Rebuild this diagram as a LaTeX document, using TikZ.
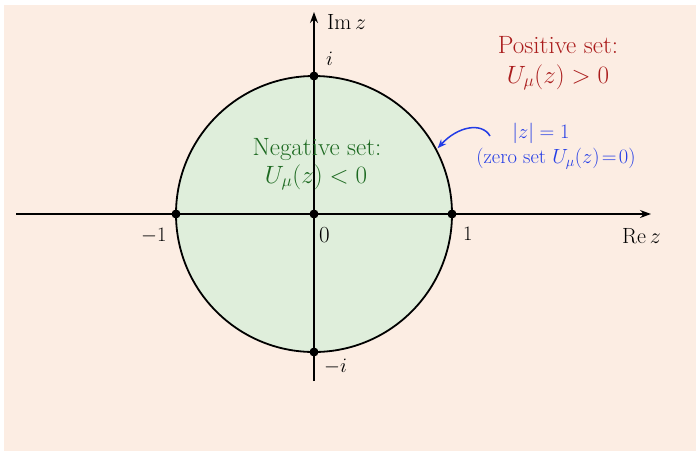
\documentclass[tikz,border=0pt]{standalone}
\usepackage{fix-cm}
\usepackage{amsmath}
\usetikzlibrary{arrows.meta,calc}
\definecolor{bgpeach}{RGB}{252,237,227}
\definecolor{diskgreen}{RGB}{223,238,219}
\definecolor{posred}{RGB}{170,28,28}
\definecolor{neggreen}{RGB}{28,105,32}
\definecolor{zeroblue}{RGB}{35,60,230}
\tikzset{
  pt/.style={circle,fill=black,inner sep=0pt,minimum size=9pt},
  lbl/.style={anchor=base west,inner sep=0pt,font=\fontsize{20.5}{24}\selectfont},
  axlbl/.style={anchor=base west,inner sep=0pt,font=\fontsize{22}{26}\selectfont},
  big/.style={anchor=base,inner sep=0pt,font=\fontsize{25}{30}\selectfont},
  axis/.style={line width=1.3pt,-{Stealth[length=11pt,width=8pt]}},
}
\begin{document}
\begin{tikzpicture}[x=1pt,y=-1pt]
\useasboundingbox (0,0) rectangle (696,451);
\fill[bgpeach] (4,5) rectangle (696,451);
\coordinate (O) at (314,214);
\fill[diskgreen] (O) circle[radius=138];
\coordinate (xl) at (16,214);
\coordinate (xr) at (651,214);
\coordinate (yb) at (314,381);
\coordinate (yt) at (314,12);
\draw[axis] (xl) -- (xr);
\draw[axis] (yb) -- (yt);
\draw[line width=1.8pt] (O) circle[radius=138];
\node[pt] (p1) at (452,214) {};
\node[pt] (m1) at (176,214) {};
\node[pt] (z0) at (314,214) {};
\node[pt] (pi) at (314,76) {};
\node[pt] (mi) at (314,352) {};
\node[axlbl] (imz) at (327,29) {$\mathrm{Im}\,z$};
\node[axlbl] (rez) at (622,243) {$\mathrm{Re}\,z$};
\node[lbl] (li) at (326,65) {$i$};
\node[lbl] (lmi) at (324,372) {$-i$};
\node[lbl] (lm1) at (141,241) {$-1$};
\node[lbl,font=\fontsize{23}{27}\selectfont] (l0) at (319,242) {$0$};
\node[lbl] (l1) at (463,240) {$1$};
\node[big,text=posred] (pos1) at (558,53) {Positive set:};
\node[big,text=posred] (pos2) at (558,83) {$U_\mu(z) > 0$};
\node[big,text=neggreen] (neg1) at (317,155) {Negative set:};
\node[big,text=neggreen] (neg2) at (316,183) {$U_\mu(z) < 0$};
\node[anchor=base,inner sep=0pt,text=zeroblue,font=\fontsize{20.5}{24}\selectfont] (zs1) at (541,138) {$|z| = 1$};
\node[anchor=base,inner sep=0pt,text=zeroblue,font=\fontsize{20.5}{25}\selectfont] (zs2) at (556,163) {(zero set $U_\mu(z)\!=\!0$)};
\coordinate (cpt) at ($(O)+(-28:140)$);
\coordinate (astart) at (490,136);
\draw[zeroblue,line width=1.5pt,-{Stealth[length=9pt,width=7pt]}] (astart) .. controls (482,122) and (458,126) .. (cpt);
\end{tikzpicture}
\end{document}
